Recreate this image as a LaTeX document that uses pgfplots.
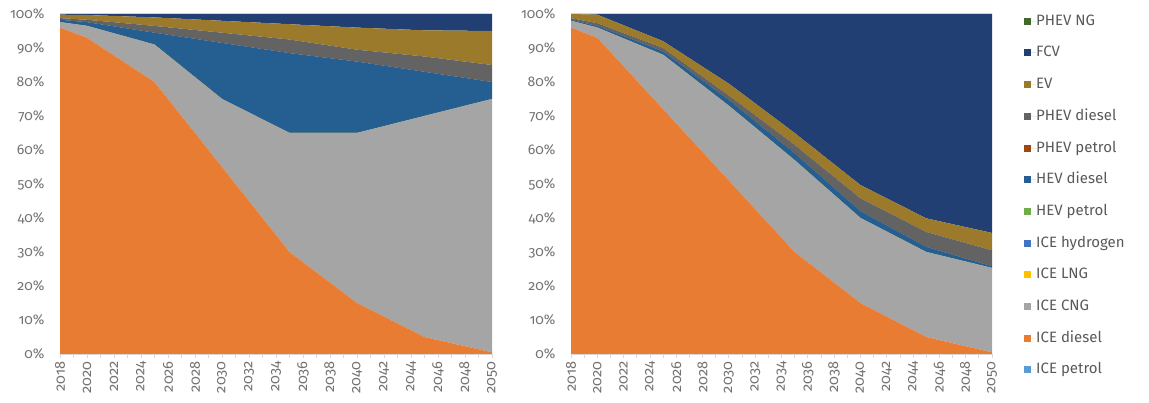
\documentclass[border=0pt]{standalone}
\usepackage{pgfplots}
\usepackage{pgfplotstable}
\pgfplotsset{compat=1.18}
\usepackage{fontspec}
\setmainfont{Fira Sans}[Numbers=OldStyle, RawFeature=+onum]
\definecolor{cIP}{HTML}{5B9BD5}
\definecolor{cDI}{HTML}{E97C33}
\definecolor{cCNG}{HTML}{A5A5A5}
\definecolor{cLNG}{HTML}{FFC000}
\definecolor{cH2}{HTML}{4472C4}
\definecolor{cHEVP}{HTML}{70AD47}
\definecolor{cHEVD}{HTML}{255E91}
\definecolor{cPHEVP}{HTML}{9E480E}
\definecolor{cPHEVD}{HTML}{636363}
\definecolor{cEV}{HTML}{9B7A2B}
\definecolor{cFCV}{HTML}{213F73}
\definecolor{cNG}{HTML}{43682B}
\definecolor{axgrey}{HTML}{D9D9D9}
\definecolor{labgrey}{HTML}{767171}
\definecolor{leggrey}{HTML}{595959}

\pgfplotstableread{
year ip di cng lng h2 hevp hevd phevp phevd ev fcv ng
2018 0 96 1.6 0 0 0 0.7 0 0.5 1.0 0.2 0
2020 0 93 3.5 0 0 0 1.1 0 0.7 1.4 0.3 0
2025 0 80 11 0 0 0 3.5 0 2 2.5 1 0
2030 0 55 20 0 0 0 16.5 0 3 3.5 2 0
2035 0 30 35 0 0 0 23.5 0 4 4.5 3 0
2040 0 15 50 0 0 0 21 0 3.5 6.5 4 0
2045 0 5 65 0 0 0 13 0 4.5 7.7 4.8 0
2050 0 0.5 74.5 0 0 0 5 0 5 10 5 0
}\lefttable

\pgfplotstableread{
year ip di cng lng h2 hevp hevd phevp phevd ev fcv ng
2018 0 96 2 0 0 0 0.3 0 0.5 1.2 0 0
2020 0 93 3 0 0 0 0.5 0 0.8 2.5 0.2 0
2025 0 72 16 0 0 0 1 0 1 2 8 0
2030 0 51 22 0 0 0 1.7 0 1.3 3.5 20.5 0
2035 0 30 27 0 0 0 2 0 2.5 3.5 35 0
2040 0 15 25 0 0 0 2 0 3.8 3.9 50.3 0
2045 0 5 25 0 0 0 1.5 0 4.4 4 60.1 0
2050 0 0.5 24.8 0 0 0 0.5 0 4.7 5.1 64.4 0
}\righttable

\pgfplotsset{
  panel/.style={
    scale only axis, height=340pt,
    xmin=2018, xmax=2050, ymin=0, ymax=100,
    stack plots=y, area style,
    axis line style={draw=none},
    every axis plot/.append style={draw=none},
    xtick={2018,2020,...,2050},
    minor xtick={2019,2021,...,2049},
    ytick={0,10,...,100},
    xtick pos=left, ytick pos=left,
    tick align=outside,
    major tick length=4pt, minor tick length=4pt,
    xtick style={draw=axgrey, line width=0.8pt},
    minor x tick style={draw=axgrey, line width=0.8pt},
    ytick style={draw=none},
    xticklabels={2018,2020,2022,2024,2026,2028,2030,2032,2034,2036,2038,2040,2042,2044,2046,2048,2050},
    yticklabels={0\%,10\%,20\%,30\%,40\%,50\%,60\%,70\%,80\%,90\%,100\%},
    xticklabel style={rotate=90, anchor=east, font=\fontsize{14.5}{16}\selectfont, text=labgrey},
    yticklabel style={font=\fontsize{14}{16}\selectfont, text=labgrey, xshift=-8pt},
    extra description/.code={\draw[axgrey, line width=0.8pt] (rel axis cs:0,0) -- (rel axis cs:1,0);},
    clip=false,
  }
}

\newcommand{\stackall}[1]{%
  \addplot[fill=cIP] table[x=year,y=ip]{#1} \closedcycle;
  \addplot[fill=cDI] table[x=year,y=di]{#1} \closedcycle;
  \addplot[fill=cCNG] table[x=year,y=cng]{#1} \closedcycle;
  \addplot[fill=cLNG] table[x=year,y=lng]{#1} \closedcycle;
  \addplot[fill=cH2] table[x=year,y=h2]{#1} \closedcycle;
  \addplot[fill=cHEVP] table[x=year,y=hevp]{#1} \closedcycle;
  \addplot[fill=cHEVD] table[x=year,y=hevd]{#1} \closedcycle;
  \addplot[fill=cPHEVP] table[x=year,y=phevp]{#1} \closedcycle;
  \addplot[fill=cPHEVD] table[x=year,y=phevd]{#1} \closedcycle;
  \addplot[fill=cEV] table[x=year,y=ev]{#1} \closedcycle;
  \addplot[fill=cFCV] table[x=year,y=fcv]{#1} \closedcycle;
  \addplot[fill=cNG] table[x=year,y=ng]{#1} \closedcycle;
}

\begin{document}
\begin{tikzpicture}
\path[use as bounding box] (0pt,0pt) rectangle (1149pt,402pt);
\begin{axis}[panel, width=432pt, at={(60pt,48pt)}, anchor=south west]
\stackall{\lefttable}
\end{axis}
\begin{axis}[panel, width=421pt, at={(571pt,48pt)}, anchor=south west,
  reverse legend,
  legend image code/.code={\fill[#1] (0pt,-3.5pt) rectangle (7pt,3.5pt); \path (0pt,0pt) -- (12pt,0pt);},
  legend cell align=left,
  legend style={at={(1.076,1)}, anchor=north west, draw=none, fill=none, inner sep=0pt,
    font=\fontsize{15}{17}\selectfont, text=leggrey, row sep=17.7pt,
    nodes={inner sep=0pt, text height=11pt, text depth=3pt}},
]
\stackall{\righttable}
\legend{ICE petrol, ICE diesel, ICE CNG, ICE LNG, ICE hydrogen, HEV petrol, HEV diesel, PHEV petrol, PHEV diesel, EV, FCV, PHEV NG}
\end{axis}
\end{tikzpicture}
\end{document}
